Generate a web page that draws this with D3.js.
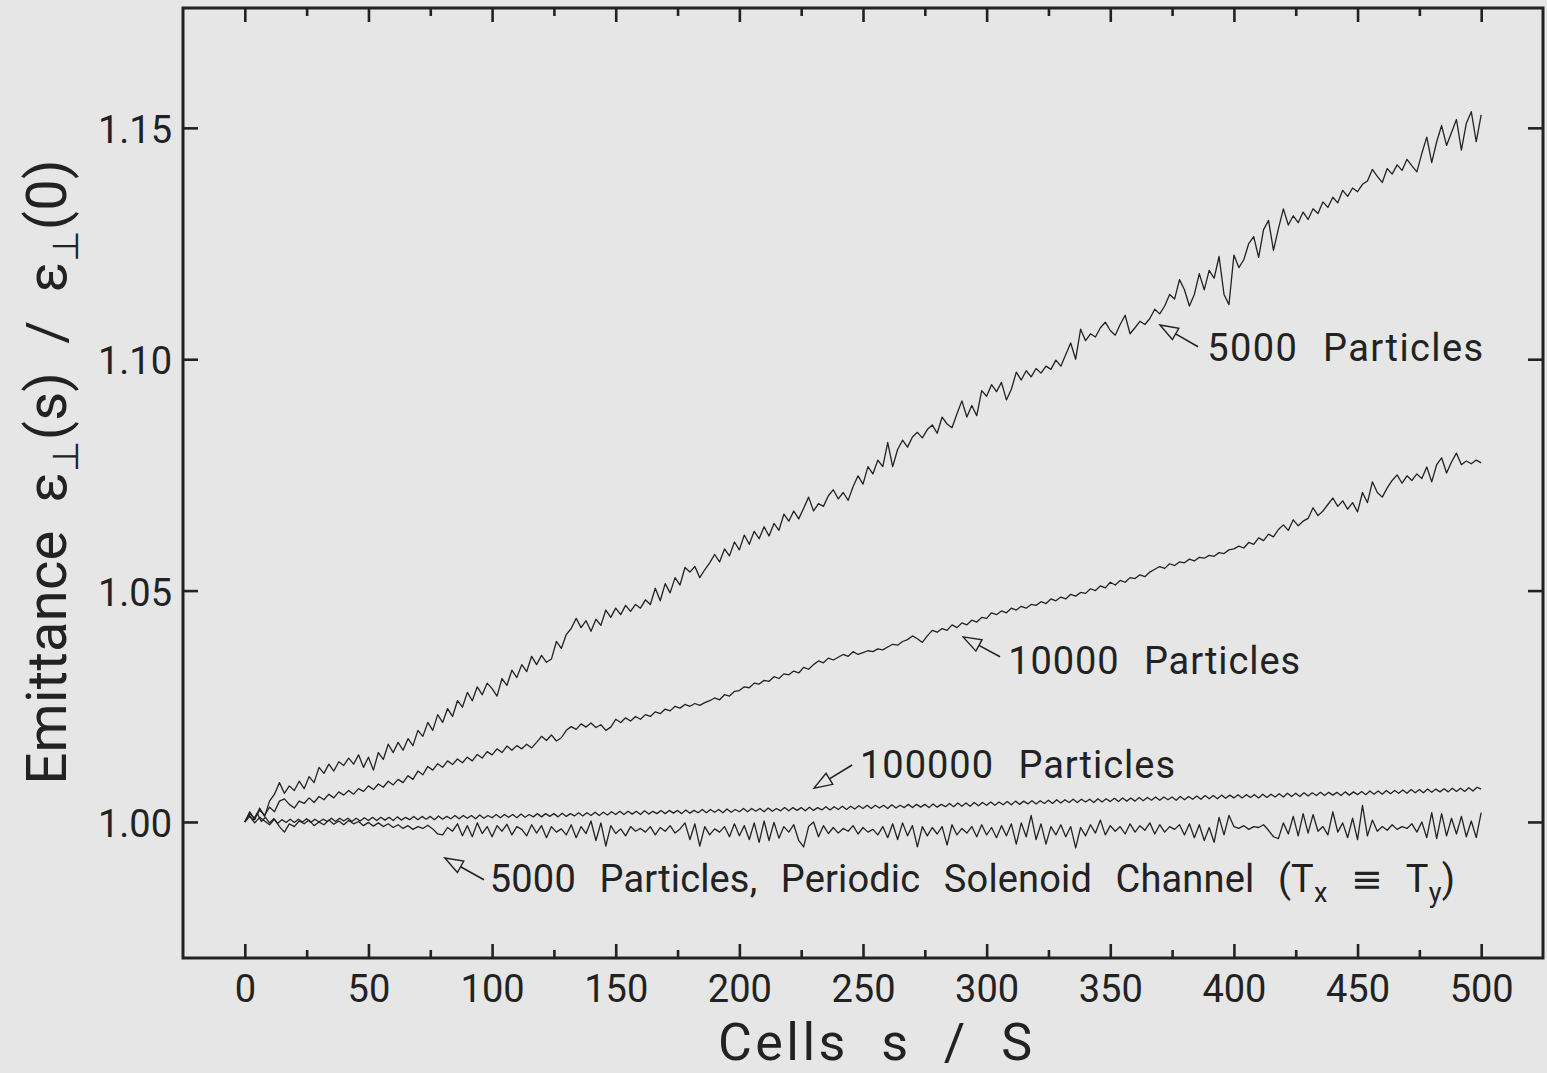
<!DOCTYPE html>
<html>
<head>
<meta charset="utf-8">
<title>Emittance growth</title>
<script src="https://d3js.org/d3.v7.min.js"></script>
<style>
    body { margin: 0; background: #e6e6e6; }
    svg { display: block; }
    text { font-family: Roboto, "Noto Sans", "DejaVu Sans", sans-serif; fill: #222; }
</style>
</head>
<body>
<div id="chart"></div>

<script>
    // tick values
    var xTicks = [0, 50, 100, 150, 200, 250, 300, 350, 400, 450, 500];
    var xMinorTicks = [25, 75, 125, 175, 225, 275, 325, 375, 425, 475];
    var yTicks = [1.00, 1.05, 1.10, 1.15];

    // sampling of the curves along s/S (cells)
    var cellStep = 2;
    var cellStepFine = 5 / 3;

    // 5000 particles
    var emit5000 = [
        1.0000, 1.0022, 1.0005, 1.0030, 1.0012, 1.0045, 1.0060, 1.0085, 1.0062, 1.0078,
        1.0068, 1.0088, 1.0072, 1.0098, 1.0085, 1.0118, 1.0105, 1.0125, 1.0110, 1.0130,
        1.0122, 1.0138, 1.0125, 1.0145, 1.0118, 1.0140, 1.0112, 1.0150, 1.0135, 1.0168,
        1.0150, 1.0172, 1.0155, 1.0180, 1.0165, 1.0198, 1.0185, 1.0215, 1.0198, 1.0232,
        1.0215, 1.0245, 1.0228, 1.0262, 1.0248, 1.0280, 1.0262, 1.0292, 1.0275, 1.0300,
        1.0288, 1.0272, 1.0310, 1.0295, 1.0328, 1.0312, 1.0340, 1.0325, 1.0358, 1.0340,
        1.0360, 1.0345, 1.0352, 1.0390, 1.0375, 1.0405, 1.0418, 1.0440, 1.0420, 1.0435,
        1.0412, 1.0438, 1.0425, 1.0458, 1.0442, 1.0462, 1.0448, 1.0468, 1.0455, 1.0470,
        1.0462, 1.0480, 1.0470, 1.0505, 1.0478, 1.0515, 1.0495, 1.0528, 1.0512, 1.0550,
        1.0540, 1.0552, 1.0528, 1.0545, 1.0560, 1.0578, 1.0562, 1.0590, 1.0575, 1.0605,
        1.0588, 1.0620, 1.0600, 1.0628, 1.0612, 1.0638, 1.0618, 1.0645, 1.0630, 1.0665,
        1.0650, 1.0672, 1.0655, 1.0678, 1.0702, 1.0672, 1.0688, 1.0682, 1.0705, 1.0718,
        1.0698, 1.0712, 1.0695, 1.0725, 1.0748, 1.0730, 1.0768, 1.0752, 1.0782, 1.0768,
        1.0820, 1.0768, 1.0805, 1.0825, 1.0810, 1.0832, 1.0842, 1.0830, 1.0848, 1.0858,
        1.0840, 1.0875, 1.0860, 1.0852, 1.0882, 1.0910, 1.0875, 1.0900, 1.0878, 1.0932,
        1.0920, 1.0945, 1.0930, 1.0950, 1.0912, 1.0935, 1.0972, 1.0955, 1.0975, 1.0962,
        1.0980, 1.0970, 1.0985, 1.0978, 1.0998, 1.0985, 1.1010, 1.1035, 1.1000, 1.1065,
        1.1040, 1.1055, 1.1048, 1.1068, 1.1080, 1.1062, 1.1052, 1.1075, 1.1095, 1.1055,
        1.1068, 1.1082, 1.1075, 1.1088, 1.1108, 1.1098, 1.1115, 1.1140, 1.1130, 1.1172,
        1.1150, 1.1115, 1.1140, 1.1185, 1.1150, 1.1192, 1.1175, 1.1222, 1.1140, 1.1118,
        1.1225, 1.1198, 1.1215, 1.1250, 1.1265, 1.1220, 1.1280, 1.1300, 1.1235, 1.1282,
        1.1325, 1.1290, 1.1310, 1.1295, 1.1318, 1.1302, 1.1325, 1.1315, 1.1340, 1.1328,
        1.1350, 1.1338, 1.1365, 1.1352, 1.1370, 1.1362, 1.1378, 1.1385, 1.1410, 1.1395,
        1.1382, 1.1412, 1.1400, 1.1420, 1.1408, 1.1432, 1.1418, 1.1405, 1.1445, 1.1480,
        1.1425, 1.1470, 1.1505, 1.1462, 1.1490, 1.1518, 1.1452, 1.1510, 1.1535, 1.1470,
        1.1528
    ];

    // 10000 particles
    var emit10000 = [
        1.0000, 1.0018, 1.0008, 1.0025, 1.0015, 1.0032, 1.0022, 1.0045, 1.0050, 1.0038,
        1.0030, 1.0045, 1.0040, 1.0052, 1.0042, 1.0055, 1.0048, 1.0060, 1.0052, 1.0065,
        1.0058, 1.0068, 1.0060, 1.0072, 1.0066, 1.0078, 1.0070, 1.0082, 1.0075, 1.0088,
        1.0080, 1.0092, 1.0085, 1.0100, 1.0092, 1.0110, 1.0102, 1.0120, 1.0112, 1.0126,
        1.0118, 1.0132, 1.0124, 1.0136, 1.0128, 1.0140, 1.0132, 1.0146, 1.0138, 1.0152,
        1.0145, 1.0158, 1.0150, 1.0164, 1.0155, 1.0165, 1.0158, 1.0168, 1.0160, 1.0172,
        1.0185, 1.0176, 1.0188, 1.0175, 1.0182, 1.0198, 1.0206, 1.0200, 1.0212, 1.0205,
        1.0214, 1.0204, 1.0210, 1.0198, 1.0205, 1.0222, 1.0215, 1.0225, 1.0218, 1.0228,
        1.0222, 1.0232, 1.0228, 1.0238, 1.0234, 1.0244, 1.0240, 1.0250, 1.0246, 1.0254,
        1.0250, 1.0256, 1.0252, 1.0258, 1.0262, 1.0268, 1.0264, 1.0275, 1.0272, 1.0282,
        1.0284, 1.0292, 1.0290, 1.0300, 1.0298, 1.0306, 1.0304, 1.0314, 1.0310, 1.0320,
        1.0318, 1.0326, 1.0322, 1.0334, 1.0330, 1.0340, 1.0348, 1.0344, 1.0354, 1.0350,
        1.0356, 1.0362, 1.0358, 1.0368, 1.0362, 1.0366, 1.0370, 1.0368, 1.0374, 1.0372,
        1.0378, 1.0384, 1.0382, 1.0390, 1.0394, 1.0402, 1.0396, 1.0388, 1.0402, 1.0414,
        1.0410, 1.0418, 1.0414, 1.0426, 1.0420, 1.0430, 1.0426, 1.0436, 1.0432, 1.0442,
        1.0440, 1.0452, 1.0448, 1.0456, 1.0452, 1.0462, 1.0458, 1.0466, 1.0462, 1.0470,
        1.0468, 1.0476, 1.0472, 1.0482, 1.0478, 1.0486, 1.0482, 1.0492, 1.0488, 1.0496,
        1.0494, 1.0504, 1.0500, 1.0510, 1.0506, 1.0518, 1.0512, 1.0522, 1.0518, 1.0528,
        1.0526, 1.0534, 1.0530, 1.0540, 1.0546, 1.0552, 1.0548, 1.0558, 1.0554, 1.0562,
        1.0560, 1.0568, 1.0564, 1.0572, 1.0570, 1.0576, 1.0574, 1.0582, 1.0580, 1.0588,
        1.0590, 1.0596, 1.0592, 1.0604, 1.0600, 1.0614, 1.0608, 1.0622, 1.0616, 1.0632,
        1.0642, 1.0630, 1.0653, 1.0640, 1.0650, 1.0656, 1.0679, 1.0662, 1.0672, 1.0686,
        1.0700, 1.0682, 1.0694, 1.0676, 1.0690, 1.0670, 1.0712, 1.0690, 1.0735, 1.0712,
        1.0702, 1.0722, 1.0738, 1.0750, 1.0732, 1.0748, 1.0738, 1.0752, 1.0742, 1.0767,
        1.0735, 1.0772, 1.0787, 1.0754, 1.0778, 1.0797, 1.0772, 1.0780, 1.0774, 1.0782,
        1.0776
    ];

    // 100000 particles (sampled finer, regular oscillation)
    var emit100000 = [
        1.0000, 1.0016, 1.0004, 1.0019, 1.0001, 1.0010, 0.9998, 1.0007, 0.9997, 1.0005,
        0.9999, 1.0006, 0.9999, 1.0006, 1.0000, 1.0007, 0.9999, 1.0006, 1.0000, 1.0006,
        1.0001, 1.0008, 1.0001, 1.0008, 1.0002, 1.0008, 1.0001, 1.0008, 1.0002, 1.0009,
        1.0003, 1.0010, 1.0003, 1.0010, 1.0004, 1.0010, 1.0003, 1.0011, 1.0004, 1.0010,
        1.0005, 1.0012, 1.0005, 1.0012, 1.0006, 1.0012, 1.0005, 1.0013, 1.0006, 1.0012,
        1.0007, 1.0014, 1.0007, 1.0014, 1.0008, 1.0014, 1.0007, 1.0015, 1.0008, 1.0014,
        1.0009, 1.0016, 1.0009, 1.0016, 1.0010, 1.0016, 1.0009, 1.0017, 1.0010, 1.0016,
        1.0011, 1.0018, 1.0011, 1.0018, 1.0012, 1.0018, 1.0011, 1.0019, 1.0012, 1.0018,
        1.0013, 1.0020, 1.0013, 1.0020, 1.0014, 1.0021, 1.0014, 1.0021, 1.0015, 1.0022,
        1.0016, 1.0023, 1.0016, 1.0023, 1.0017, 1.0023, 1.0016, 1.0024, 1.0017, 1.0023,
        1.0018, 1.0025, 1.0018, 1.0025, 1.0019, 1.0025, 1.0018, 1.0026, 1.0019, 1.0025,
        1.0020, 1.0027, 1.0020, 1.0027, 1.0021, 1.0027, 1.0020, 1.0028, 1.0021, 1.0027,
        1.0022, 1.0029, 1.0022, 1.0029, 1.0023, 1.0029, 1.0022, 1.0030, 1.0023, 1.0029,
        1.0024, 1.0031, 1.0024, 1.0031, 1.0025, 1.0031, 1.0024, 1.0032, 1.0025, 1.0031,
        1.0026, 1.0033, 1.0026, 1.0033, 1.0027, 1.0034, 1.0027, 1.0034, 1.0028, 1.0035,
        1.0029, 1.0036, 1.0029, 1.0036, 1.0030, 1.0036, 1.0029, 1.0037, 1.0030, 1.0036,
        1.0031, 1.0038, 1.0031, 1.0038, 1.0032, 1.0038, 1.0031, 1.0039, 1.0032, 1.0038,
        1.0033, 1.0040, 1.0033, 1.0041, 1.0034, 1.0041, 1.0034, 1.0042, 1.0035, 1.0042,
        1.0036, 1.0043, 1.0036, 1.0043, 1.0037, 1.0044, 1.0037, 1.0045, 1.0038, 1.0045,
        1.0039, 1.0046, 1.0039, 1.0046, 1.0040, 1.0047, 1.0040, 1.0048, 1.0041, 1.0048,
        1.0042, 1.0049, 1.0042, 1.0049, 1.0043, 1.0049, 1.0042, 1.0050, 1.0043, 1.0050,
        1.0044, 1.0051, 1.0044, 1.0052, 1.0045, 1.0052, 1.0045, 1.0053, 1.0046, 1.0053,
        1.0047, 1.0054, 1.0047, 1.0054, 1.0048, 1.0054, 1.0047, 1.0055, 1.0048, 1.0055,
        1.0049, 1.0056, 1.0049, 1.0057, 1.0050, 1.0057, 1.0050, 1.0058, 1.0051, 1.0058,
        1.0052, 1.0059, 1.0052, 1.0059, 1.0053, 1.0059, 1.0052, 1.0060, 1.0053, 1.0060,
        1.0054, 1.0061, 1.0054, 1.0062, 1.0055, 1.0062, 1.0055, 1.0063, 1.0056, 1.0063,
        1.0057, 1.0064, 1.0057, 1.0064, 1.0058, 1.0064, 1.0057, 1.0065, 1.0058, 1.0065,
        1.0059, 1.0066, 1.0059, 1.0067, 1.0060, 1.0067, 1.0060, 1.0068, 1.0061, 1.0068,
        1.0062, 1.0069, 1.0062, 1.0070, 1.0063, 1.0070, 1.0063, 1.0071, 1.0064, 1.0071,
        1.0065, 1.0072, 1.0065, 1.0073, 1.0066, 1.0073, 1.0066, 1.0074, 1.0067, 1.0075,
        1.0071
    ];

    // 5000 particles, periodic solenoid channel
    var emitSolenoid = [
        1.0000, 1.0012, 0.9998, 1.0010, 1.0002, 0.9994, 1.0006, 0.9990, 0.9978, 0.9996,
        0.9990, 1.0002, 0.9996, 1.0004, 0.9992, 1.0000, 0.9994, 1.0004, 0.9995, 1.0002,
        0.9994, 1.0003, 0.9996, 1.0001, 0.9992, 0.9999, 0.9991, 0.9998, 0.9990, 0.9996,
        0.9988, 0.9994, 0.9986, 0.9992, 0.9984, 0.9990, 0.9986, 0.9993, 0.9985, 0.9974,
        0.9972, 0.9988, 0.9980, 0.9996, 0.9970, 0.9992, 0.9968, 0.9998, 0.9975, 0.9990,
        0.9968, 0.9992, 0.9980, 0.9995, 0.9972, 0.9990, 0.9984, 0.9970, 0.9994, 0.9976,
        0.9992, 0.9966, 0.9990, 0.9978, 0.9985, 0.9972, 0.9994, 0.9966, 0.9990, 0.9975,
        1.0002, 0.9960, 0.9998, 0.9948, 0.9992, 0.9975, 0.9985, 0.9970, 0.9990, 0.9980,
        0.9986, 0.9978, 0.9990, 0.9972, 0.9988, 0.9980, 0.9992, 0.9976, 0.9985, 0.9998,
        0.9962, 0.9996, 0.9948, 0.9990, 0.9972, 0.9985, 0.9978, 0.9990, 0.9968, 0.9996,
        0.9970, 0.9992, 0.9962, 0.9998, 0.9956, 1.0002, 0.9960, 0.9999, 0.9965, 0.9990,
        0.9978, 0.9994, 0.9960, 0.9946, 0.9990, 1.0000, 0.9968, 0.9992, 0.9975, 0.9988,
        0.9976, 0.9986, 0.9980, 0.9992, 0.9974, 0.9988, 0.9978, 0.9984, 0.9972, 0.9990,
        0.9966, 0.9996, 0.9962, 0.9998, 0.9970, 0.9992, 0.9946, 0.9990, 0.9970, 0.9988,
        0.9974, 0.9990, 0.9950, 0.9994, 0.9972, 0.9986, 0.9976, 0.9990, 0.9968, 0.9994,
        0.9972, 0.9988, 0.9966, 0.9992, 0.9970, 0.9996, 0.9952, 0.9998, 0.9968, 1.0014,
        0.9962, 0.9996, 0.9952, 0.9990, 0.9972, 0.9994, 0.9968, 0.9990, 0.9944, 0.9988,
        0.9970, 0.9994, 0.9976, 1.0004, 0.9972, 0.9992, 0.9980, 0.9990, 0.9974, 0.9996,
        0.9978, 0.9992, 0.9982, 0.9998, 0.9974, 0.9994, 0.9978, 0.9990, 0.9984, 0.9994,
        0.9972, 0.9996, 0.9966, 0.9994, 0.9960, 0.9988, 0.9956, 1.0010, 0.9972, 1.0014,
        0.9990, 0.9986, 0.9992, 0.9984, 0.9990, 0.9988, 0.9994, 0.9982, 0.9968, 0.9964,
        0.9998, 0.9974, 1.0012, 0.9970, 1.0018, 0.9976, 1.0016, 0.9980, 0.9990, 0.9972,
        1.0022, 0.9978, 0.9998, 0.9966, 1.0008, 0.9962, 1.0036, 0.9970, 1.0004, 0.9980,
        0.9990, 0.9982, 0.9994, 0.9984, 0.9990, 0.9986, 0.9996, 0.9978, 1.0000, 0.9966,
        1.0020, 0.9964, 1.0018, 0.9970, 1.0008, 0.9974, 1.0012, 0.9968, 1.0002, 0.9966,
        1.0020
    ];

    var width = 1547, height = 1073;
    var frame = { left: 183, right: 1543, top: 8, bottom: 958 };
    var ink = "#222";

    var svg = d3.select("#chart").append("svg")
        .attr("width", width)
        .attr("height", height);

    var x = d3.scaleLinear().domain([-25, 525]).range([frame.left, frame.right]);
    var y = d3.scaleLinear().domain([0.9706, 1.1759]).range([frame.bottom, frame.top]);

    // ---- axes, all ticks point inwards ----
    function styleAxis(g) {
        g.select(".domain").remove();
        g.selectAll(".tick line").attr("stroke", ink).attr("stroke-width", 2.6);
        g.selectAll(".tick text").attr("fill", ink).attr("font-size", "38px")
            .attr("font-family", "Roboto, 'Noto Sans', sans-serif");
    }

    svg.append("g")
        .attr("transform", "translate(0," + frame.bottom + ")")
        .call(d3.axisBottom(x).tickValues(xTicks).tickSizeInner(-14).tickSizeOuter(0)
            .tickPadding(17).tickFormat(d3.format("d")))
        .call(styleAxis);
    svg.append("g")
        .attr("transform", "translate(0," + frame.bottom + ")")
        .call(d3.axisBottom(x).tickValues(xMinorTicks).tickSizeInner(-8).tickSizeOuter(0).tickFormat(""))
        .call(styleAxis);
    svg.append("g")
        .attr("transform", "translate(0," + frame.top + ")")
        .call(d3.axisTop(x).tickValues(xTicks).tickSizeInner(-14).tickSizeOuter(0).tickFormat(""))
        .call(styleAxis);
    svg.append("g")
        .attr("transform", "translate(0," + frame.top + ")")
        .call(d3.axisTop(x).tickValues(xMinorTicks).tickSizeInner(-8).tickSizeOuter(0).tickFormat(""))
        .call(styleAxis);
    svg.append("g")
        .attr("transform", "translate(" + frame.left + ",0)")
        .call(d3.axisLeft(y).tickValues(yTicks).tickSizeInner(-15).tickSizeOuter(0)
            .tickPadding(11).tickFormat(d3.format(".2f")))
        .call(styleAxis)
        .selectAll(".tick text").attr("dy", "0.38em");
    svg.append("g")
        .attr("transform", "translate(" + frame.right + ",0)")
        .call(d3.axisRight(y).tickValues(yTicks).tickSizeInner(-15).tickSizeOuter(0).tickFormat(""))
        .call(styleAxis);

    // frame
    svg.append("rect")
        .attr("x", frame.left)
        .attr("y", frame.top)
        .attr("width", frame.right - frame.left)
        .attr("height", frame.bottom - frame.top)
        .attr("fill", "none")
        .attr("stroke", ink)
        .attr("stroke-width", 3);

    // ---- curves ----
    var curves = [
        { values: emit5000, step: cellStep },
        { values: emit10000, step: cellStep },
        { values: emit100000, step: cellStepFine },
        { values: emitSolenoid, step: cellStep }
    ];

    var line = d3.line()
        .x(function (d) { return x(d[0]); })
        .y(function (d) { return y(d[1]); });

    curves.forEach(function (c) {
        var pts = c.values.map(function (v, i) { return [i * c.step, v]; });
        svg.append("path")
            .datum(pts)
            .attr("d", line)
            .attr("fill", "none")
            .attr("stroke", ink)
            .attr("stroke-width", 1.3)
            .attr("stroke-linejoin", "round");
    });

    // ---- annotations (positions in data units) ----
    function arrow(tail, tip) {
        var x1 = x(tail[0]), y1 = y(tail[1]), x2 = x(tip[0]), y2 = y(tip[1]);
        var ang = Math.atan2(y2 - y1, x2 - x1);
        var len = 18, half = 6.5;
        var bx = x2 - len * Math.cos(ang), by = y2 - len * Math.sin(ang);
        var nx = -Math.sin(ang), ny = Math.cos(ang);
        svg.append("line")
            .attr("x1", x1).attr("y1", y1).attr("x2", bx).attr("y2", by)
            .attr("stroke", ink).attr("stroke-width", 1.6);
        svg.append("path")
            .attr("d", "M" + x2 + "," + y2 +
                "L" + (bx + nx * half) + "," + (by + ny * half) +
                "L" + (bx - nx * half) + "," + (by - ny * half) + "Z")
            .attr("fill", "#e6e6e6")
            .attr("stroke", ink)
            .attr("stroke-width", 1.4);
    }

    function label(pos, span) {
        return svg.append("text")
            .attr("x", x(pos[0]))
            .attr("y", y(pos[1]))
            .attr("font-size", "38px")
            .attr("word-spacing", "14px")
            .attr("lengthAdjust", "spacing")
            .attr("textLength", span);
    }

    arrow([385.5, 1.1027], [370.1, 1.1074]);
    label([389.2, 1.0996], 276).text("5000 Particles");

    arrow([305.4, 1.0357], [290.5, 1.0400]);
    label([308.7, 1.0320], 292).text("10000 Particles");

    arrow([245.6, 1.0123], [230.2, 1.0073]);
    label([248.8, 1.0095], 315).text("100000 Particles");

    arrow([96.7, 0.9875], [80.9, 0.9922]);
    var sol = label([99.1, 0.9849], 965);
    sol.append("tspan").text("5000 Particles, Periodic Solenoid Channel (T");
    sol.append("tspan").attr("dy", 10).attr("font-size", "27px").text("x");
    sol.append("tspan").attr("dy", -10).text(" \u2261 T");
    sol.append("tspan").attr("dy", 10).attr("font-size", "27px").text("y");
    sol.append("tspan").attr("dy", -10).text(")");

    // ---- axis titles ----
    svg.append("text")
        .attr("x", (frame.left + frame.right) / 2 + 12)
        .attr("y", 1060)
        .attr("text-anchor", "middle")
        .attr("font-size", "52px")
        .attr("word-spacing", "16px")
        .attr("lengthAdjust", "spacing")
        .attr("textLength", 314)
        .text("Cells s / S");

    var yTitle = svg.append("text")
        .attr("transform", "translate(66," + ((frame.top + frame.bottom) / 2 - 11) + ") rotate(-90)")
        .attr("text-anchor", "middle")
        .attr("font-size", "56px")
        .attr("word-spacing", "14px")
        .attr("lengthAdjust", "spacing")
        .attr("textLength", 625);
    yTitle.append("tspan").text("Emittance \u03b5");
    yTitle.append("tspan").attr("dy", 12).attr("font-size", "36px").text("\u22a5");
    yTitle.append("tspan").attr("dy", -12).text("(s) / \u03b5");
    yTitle.append("tspan").attr("dy", 12).attr("font-size", "36px").text("\u22a5");
    yTitle.append("tspan").attr("dy", -12).text("(0)");
</script>
</body>
</html>
